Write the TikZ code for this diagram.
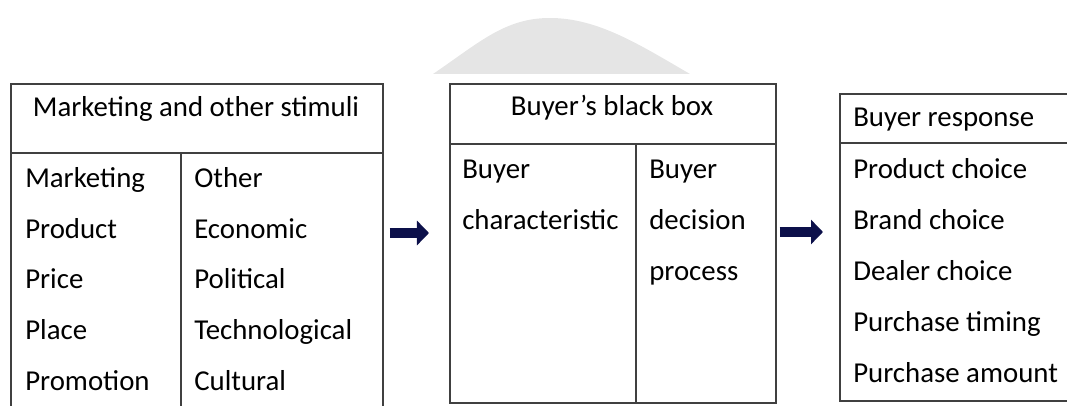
\documentclass[tikz,border=0pt]{standalone}
\usepackage{fontspec}
\setmainfont{Carlito}
\usepackage{xcolor}
\usepackage{tikz}
\usetikzlibrary{arrows.meta}
\definecolor{navy}{RGB}{12,16,74}
\definecolor{wmark}{RGB}{229,229,229}
\tikzset{
	box node/.style={rectangle,draw=black!75,line width=1.1pt,inner sep=0pt},
	box line/.style={draw=black!75,line width=1.1pt},
	item/.style={anchor=base west,inner sep=0pt,font=\fontsize{20.5}{24}\selectfont},
	head/.style={anchor=base,inner sep=0pt,font=\fontsize{20.5}{24}\selectfont},
	big arrow/.style={draw=navy,line width=0.25cm,-{Triangle[length=0.3cm,width=0.6cm]}}
}

\begin{document}
\begin{tikzpicture}[x=0.025cm,y=-0.025cm]
	\useasboundingbox (0,0) rectangle (1067,406);
	\fill[wmark] (433,74) .. controls (480,42) and (505,18) .. (550,18)
		.. controls (598,18) and (640,45) .. (690,74) -- cycle;

	\node [box node,anchor=north west,minimum width=9.3cm,minimum height=8.5cm] (stimuli) at (10,83) {};
	\node [box node,anchor=north west,minimum width=8.15cm,minimum height=7.975cm] (blackbox) at (449,83) {};
	\node [box node,anchor=north west,minimum width=6.5cm,minimum height=7.675cm] (response) at (839,93) {};

	\draw [box line] (stimuli.west |- 0,153) -- (stimuli.east |- 0,153);
	\draw [box line] (181,153) -- (181,0 |- stimuli.south);
	\draw [box line] (blackbox.west |- 0,144) -- (blackbox.east |- 0,144);
	\draw [box line] (636,144) -- (636,0 |- blackbox.south);
	\draw [box line] (response.west |- 0,143) -- (response.east |- 0,143);

	\node [head] (t1) at (196,117) {Marketing and other stimuli};
	\node [head] (t2) at (612,116) {Buyer’s black box};
	\node [item] (t3) at (853,127) {Buyer response};

	\foreach \txt [count=\i from 0] in {Marketing,Product,Price,Place,Promotion}
		\node [item] (mk\i) at (25,187.5+50.75*\i) {\txt};
	\foreach \txt [count=\i from 0] in {Other,Economic,Political,Technological,Cultural}
		\node [item] (ot\i) at (194,187.5+50.75*\i) {\txt};
	\foreach \txt [count=\i from 0] in {Buyer,characteristic}
		\node [item] (bc\i) at (462,178.5+51*\i) {\txt};
	\foreach \txt [count=\i from 0] in {Buyer,decision,process}
		\node [item] (bd\i) at (649,178.5+51*\i) {\txt};
	\foreach \txt [count=\i from 0] in {Product choice,Brand choice,Dealer choice,Purchase timing,Purchase amount}
		\node [item] (br\i) at (853,179+51*\i) {\txt};

	\draw [big arrow,shorten <=0.15cm,shorten >=0.5cm] (stimuli.east |- 0,233) -- (blackbox.west |- 0,233);
	\draw [big arrow,shorten <=0.075cm,shorten >=0.4cm] (blackbox.east |- 0,232) -- (response.west |- 0,232);
\end{tikzpicture}
\end{document}
